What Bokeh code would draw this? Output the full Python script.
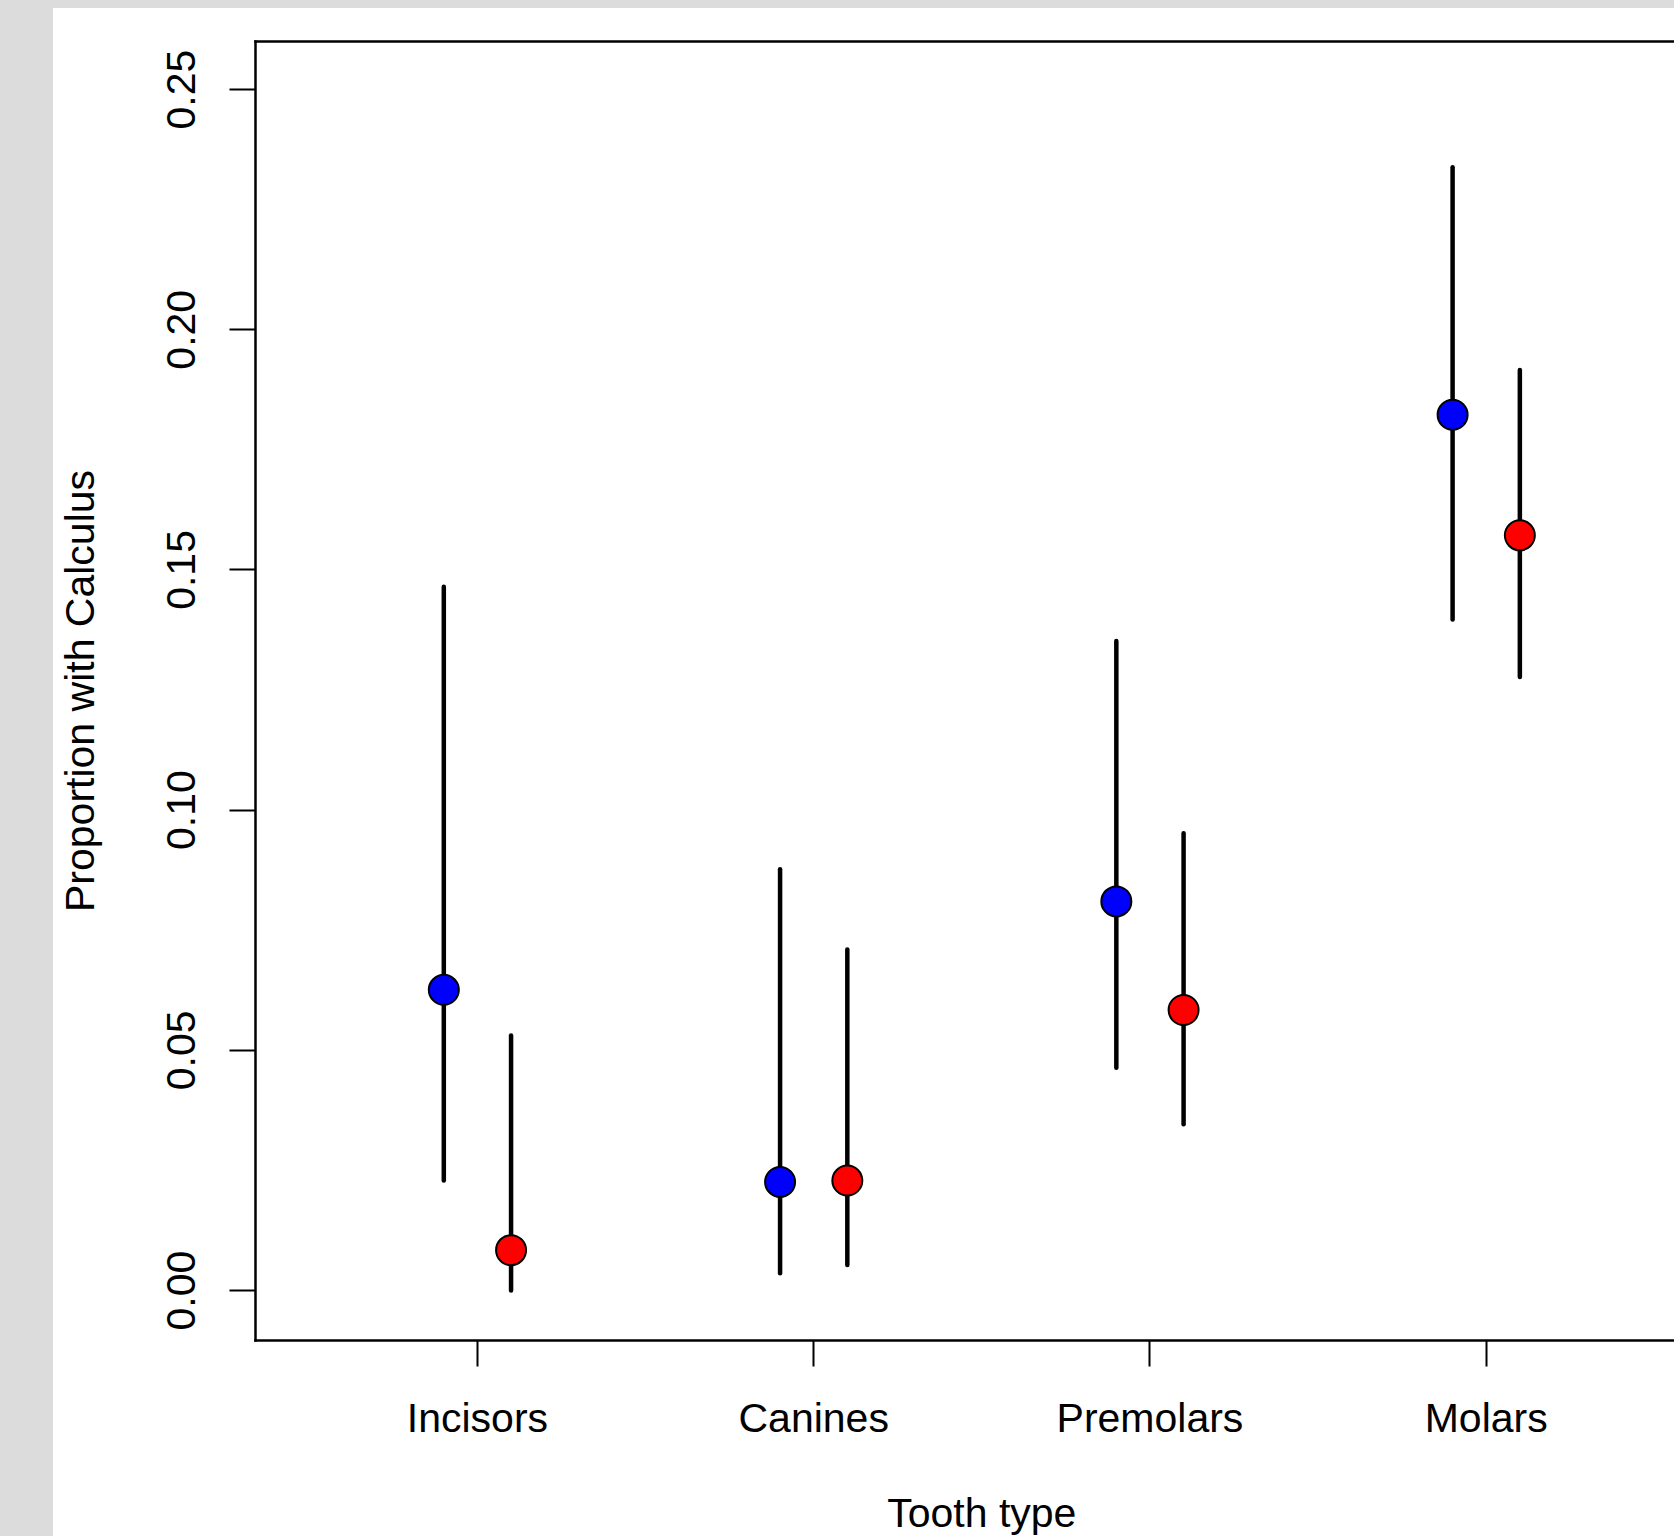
from bokeh.plotting import figure
from bokeh.models import (ColumnDataSource, FixedTicker, LinearAxis, Range1d,
                          NumeralTickFormatter, Div, Label)
from bokeh.layouts import row, column
from bokeh.embed import file_html
from bokeh.resources import INLINE

# ---- data ----
categories = ["Incisors", "Canines", "Premolars", "Molars"]
group_a_est = [0.0626, 0.0226, 0.0810, 0.1823]   # blue
group_a_lo = [0.0229, 0.0036, 0.0464, 0.1397]
group_a_hi = [0.1465, 0.0877, 0.1352, 0.2338]
group_b_est = [0.0084, 0.0229, 0.0584, 0.1572]   # red
group_b_lo = [0.0000, 0.0053, 0.0346, 0.1277]
group_b_hi = [0.0531, 0.0710, 0.0952, 0.1916]
y_ticks = [0.00, 0.05, 0.10, 0.15, 0.20, 0.25]
x_title = "Tooth type"
y_title = "Proportion with Calculus"

FONT = "Liberation Sans"
FS = "41px"
GRAY = "#dcdcdc"

pos = list(range(1, len(categories) + 1))
xa = [p_ - 0.1 for p_ in pos]
xb = [p_ + 0.1 for p_ in pos]

src_a = ColumnDataSource(dict(x=xa, est=group_a_est, lo=group_a_lo, hi=group_a_hi))
src_b = ColumnDataSource(dict(x=xb, est=group_b_est, lo=group_b_lo, hi=group_b_hi))

W = 1621
H = 1442          # main figure
H2 = 86           # strip below holding the x-axis title
ML, MR, MT, MB = 201, 0, 33, 110
px_per_unit = 336.5
x_start = 0.34
x_end = x_start + (W - ML - MR) / px_per_unit
xr = Range1d(x_start, x_end)

p = figure(width=W, height=H, output_backend="svg", toolbar_location=None,
           x_range=xr, y_range=Range1d(-0.0104, 0.26),
           min_border_left=ML, min_border_right=MR, min_border_top=MT,
           min_border_bottom=MB, background_fill_color="white",
           border_fill_color="white", outline_line_color=None)
p.xgrid.visible = False
p.ygrid.visible = False

# error bars
for s in (src_a, src_b):
    p.segment(x0="x", y0="lo", x1="x", y1="hi", source=s, line_color="black",
              line_width=4.5, line_cap="round")
p.scatter(x="x", y="est", source=src_a, marker="circle", size=30,
          fill_color="#0000FF", line_color="black", line_width=2)
p.scatter(x="x", y="est", source=src_b, marker="circle", size=30,
          fill_color="#FF0000", line_color="black", line_width=2)

# x axis
xax = p.xaxis[0]
xax.ticker = FixedTicker(ticks=pos)
xax.major_label_overrides = {i: c for i, c in zip(pos, categories)}
xax.major_label_standoff = 28
# y axis
yax = p.yaxis[0]
yax.ticker = FixedTicker(ticks=y_ticks)
yax.formatter = NumeralTickFormatter(format="0.00")
yax.major_label_orientation = "parallel"
yax.major_label_standoff = 34
yax.axis_label = y_title
yax.axis_label_standoff = 62

for ax in (xax, yax):
    ax.axis_line_width = 2.5
    ax.axis_line_color = "black"
    ax.axis_line_cap = "square"
    ax.major_tick_line_width = 2
    ax.major_tick_line_color = "black"
    ax.major_tick_out = 26
    ax.major_tick_in = 0
    ax.minor_tick_out = 0
    ax.minor_tick_in = 0
    ax.major_label_text_font = FONT
    ax.major_label_text_font_size = FS
    ax.major_label_text_color = "black"
    ax.axis_label_text_font = FONT
    ax.axis_label_text_font_size = FS
    ax.axis_label_text_font_style = "normal"
    ax.axis_label_text_color = "black"

# top border of box
top = LinearAxis(ticker=FixedTicker(ticks=[]), major_label_text_font_size="0px",
                 major_tick_out=0, major_tick_in=0, minor_tick_out=0, minor_tick_in=0,
                 axis_line_width=2.5, axis_line_color="black", axis_line_cap="square")
p.add_layout(top, "above")

# strip below: x-axis title, centred on the full plotting region as in the reference
p2 = figure(width=W, height=H2, output_backend="svg", toolbar_location=None,
            x_range=xr, y_range=Range1d(0, H2),
            x_axis_location=None, y_axis_location=None,
            min_border_left=ML, min_border_right=MR, min_border_top=0,
            min_border_bottom=0, background_fill_color="white",
            border_fill_color="white", outline_line_color=None)
p2.xgrid.visible = False
p2.ygrid.visible = False
p2.add_layout(Label(x=2.5, y=24, text=x_title, text_align="center",
                    text_baseline="alphabetic", text_font=FONT, text_font_size=FS,
                    text_color="black"))

strip_left = Div(text="", width=53, height=H + H2 + 8, margin=(0, 0, 0, 0),
                 styles={"background-color": GRAY})
strip_top = Div(text="", width=W, height=8, margin=(0, 0, 0, 0),
                styles={"background-color": GRAY})
layout = row(strip_left, column(strip_top, p, p2, spacing=0), spacing=0)

open("out.html", "w").write(file_html(layout, INLINE))
